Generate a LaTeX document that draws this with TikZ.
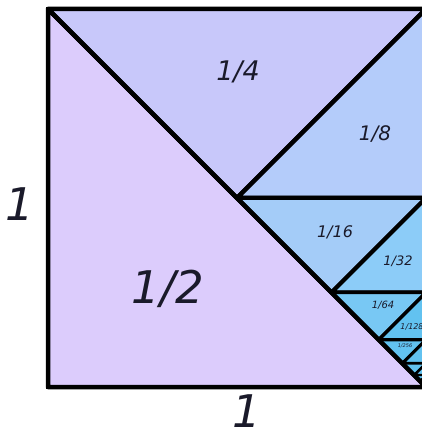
\documentclass[tikz,border=0pt]{standalone}
\usepackage{fontspec}
\setmainfont{DejaVu Sans}
\usepackage{xcolor}
\usepackage{tikz}
\definecolor{halfLilac}{HTML}{DCCCFC}
\definecolor{quarterBlue}{HTML}{C8C8FA}
\definecolor{eighthBlue}{HTML}{B4CCFA}
\definecolor{sixteenthBlue}{HTML}{A4CCF8}
\definecolor{thirtysecondBlue}{HTML}{8CCCF8}
\definecolor{sixtyfourthBlue}{HTML}{78C8F4}
\definecolor{tinyBlue}{HTML}{62C2F0}
\definecolor{inkDark}{HTML}{1A1A2A}

\begin{document}
\begin{tikzpicture}[x=1pt, y=1pt,
  piece/.style={draw=black, line join=round},
  frac/.style={font=\itshape, text=inkDark, inner sep=0pt},
  side/.style={frac, font=\itshape\fontsize{45}{45}\selectfont}
]
\clip (-48,-50) rectangle (374,387);
\fill[white] (-48,-50) rectangle (374,387);
\filldraw[piece, line width=4.5pt, fill=halfLilac] (0,378) -- (0,0) -- (378,0) -- cycle;
\foreach \k/\ca/\cb in {0/quarterBlue/eighthBlue, 1/sixteenthBlue/thirtysecondBlue,
  2/sixtyfourthBlue/tinyBlue, 3/tinyBlue/tinyBlue, 4/tinyBlue/tinyBlue,
  5/tinyBlue/tinyBlue, 6/tinyBlue/tinyBlue, 7/tinyBlue/tinyBlue} {
  \pgfmathsetmacro{\h}{378/2^\k}
  \pgfmathsetmacro{\hh}{\h/2}
  \pgfmathsetmacro{\lw}{max(1,4.5-0.5*\k)}
  \filldraw[piece, line width=\lw pt, fill=\ca] (378-\h,\h) -- (378,\h) -- (378-\hh,\hh) -- cycle;
  \filldraw[piece, line width=\lw pt, fill=\cb] (378,\h) -- (378-\hh,\hh) -- (378,\hh) -- cycle;
}
\draw[line width=4.5pt, line join=miter] (0,0) rectangle (378,378);
\draw[line width=4.5pt] (0,378) -- (378,0);
% fractions
\node[frac, font=\itshape\fontsize{27}{27}\selectfont] (quarter) at (190,315) {1/4};
\node[frac, font=\itshape\fontsize{20}{20}\selectfont] (eighth) at (327,253) {1/8};
\node[frac, font=\itshape\fontsize{16}{16}\selectfont] (sixteenth) at (287,155) {1/16};
\node[frac, font=\itshape\fontsize{13}{13}\selectfont] (thirtysecond) at (350,126) {1/32};
\node[frac, font=\itshape\fontsize{10}{10}\selectfont] (sixtyfourth) at (335,82) {1/64};
\node[frac, font=\itshape\fontsize{8}{8}\selectfont] (onetwentyeighth) at (364,60) {1/128};
\node[frac, font=\itshape\fontsize{5}{5}\selectfont] (twofiftysixth) at (357,41) {1/256};
\node[side] (half) at (120,98) {1/2};
\node[side] (height) at (-28,183) {1};
\node[side] (width) at (199,-24) {1};
\end{tikzpicture}
\end{document}
